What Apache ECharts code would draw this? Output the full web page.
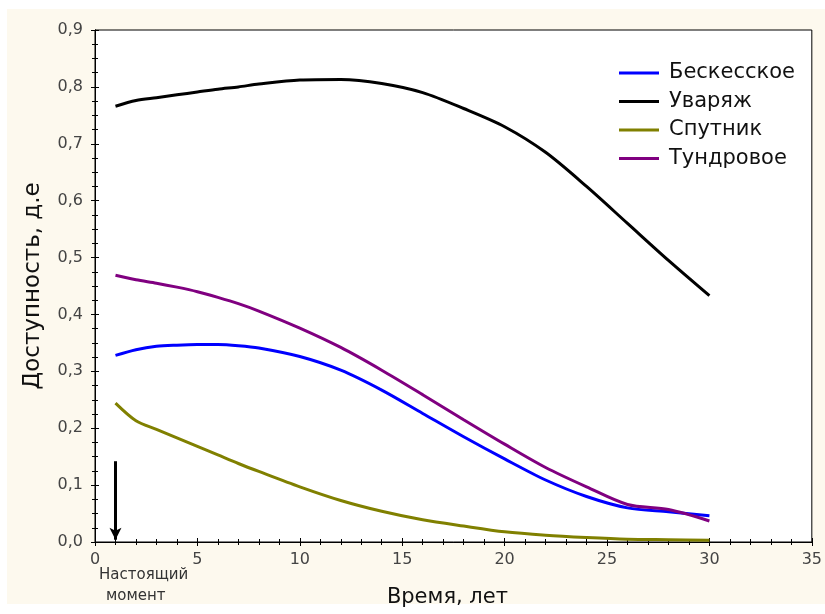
<!DOCTYPE html>
<html>
<head>
<meta charset="utf-8">
<script src="https://cdn.jsdelivr.net/npm/echarts@6/dist/echarts.min.js"></script>
<style>
  html, body { margin: 0; padding: 0; background: #fff; }
  #chart { width: 825px; height: 614px; }
</style>
</head>
<body>
<div id="chart"></div>
<script>
// годы
const years = [1, 2, 3, 4, 5, 6, 7, 8, 10, 12, 14, 16, 18, 20, 22, 24, 26, 28, 30];

// доступность по месторождениям
const beskesskoe = [0.328, 0.338, 0.344, 0.346, 0.347, 0.347, 0.345, 0.341, 0.326, 0.302, 0.267, 0.226, 0.185, 0.146, 0.109, 0.080, 0.060, 0.053, 0.046];
const uvaryazh   = [0.766, 0.776, 0.781, 0.786, 0.791, 0.796, 0.800, 0.805, 0.812, 0.813, 0.806, 0.790, 0.762, 0.730, 0.685, 0.625, 0.560, 0.495, 0.433];
const sputnik    = [0.244, 0.213, 0.198, 0.183, 0.168, 0.153, 0.138, 0.124, 0.097, 0.073, 0.054, 0.039, 0.028, 0.018, 0.012, 0.008, 0.005, 0.004, 0.003];
const tundrovoe  = [0.469, 0.461, 0.455, 0.448, 0.440, 0.430, 0.419, 0.406, 0.376, 0.342, 0.302, 0.259, 0.215, 0.172, 0.131, 0.097, 0.066, 0.057, 0.037];

const seriesNames = ['Бескесское', 'Уваряж', 'Спутник', 'Тундровое'];
const seriesColors = ['#0000ff', '#000000', '#808000', '#800080'];
const seriesValues = [beskesskoe, uvaryazh, sputnik, tundrovoe];

// стрелка "настоящий момент"
const arrowX = 1;
const arrowTop = 0.142;

const xTicks = { min: 0, max: 35, interval: 5 };
const yTicks = { min: 0, max: 0.9, interval: 0.1 };

const FONT = '"DejaVu Sans", "Liberation Sans", sans-serif';

const myChart = echarts.init(document.getElementById('chart'));

const tickCommon = {
  axisLine: { show: true, lineStyle: { color: '#000', width: 1 } },
  axisTick: { show: true, inside: true, length: 4, lineStyle: { color: '#000' } },
  minorTick: { show: true, length: 3, lineStyle: { color: '#000' } },
  splitLine: { show: false }
};

const series = seriesNames.map((name, i) => ({
  name: name,
  type: 'line',
  smooth: 0.3,
  showSymbol: false,
  symbol: 'none',
  data: years.map((y, j) => [y, seriesValues[i][j]]),
  lineStyle: { color: seriesColors[i], width: 3 },
  itemStyle: { color: seriesColors[i] }
}));

series.push({
  name: 'arrow',
  type: 'line',
  data: [],
  markLine: {
    silent: true,
    symbol: ['none', 'arrow'],
    symbolSize: [9, 12],
    label: { show: false },
    lineStyle: { color: '#000', width: 3, type: 'solid' },
    data: [[{ coord: [arrowX, arrowTop] }, { coord: [arrowX, 0.004] }]]
  }
});

const option = {
  backgroundColor: '#fdf9ee',
  animation: false,
  graphic: [
    { type: 'rect', shape: { x: 0, y: 0, width: 825, height: 9 }, style: { fill: '#fff' }, silent: true },
    { type: 'rect', shape: { x: 0, y: 0, width: 7, height: 614 }, style: { fill: '#fff' }, silent: true },
    { type: 'rect', shape: { x: 0, y: 604, width: 825, height: 10 }, style: { fill: '#fff' }, silent: true },
    {
      type: 'text', left: 99, top: 568,
      style: { text: 'Настоящий', fill: '#333', font: '15px ' + FONT }
    },
    {
      type: 'text', left: 106, top: 589,
      style: { text: 'момент', fill: '#333', font: '15px ' + FONT }
    }
  ],
  legend: {
    data: seriesNames,
    orient: 'vertical',
    left: 614,
    top: 57,
    itemWidth: 40,
    itemHeight: 3,
    itemGap: 6.5,
    icon: 'rect',
    textStyle: { fontSize: 21, lineHeight: 22, color: '#111', fontFamily: FONT, padding: [0, 0, 0, 5] }
  },
  grid: {
    left: 95, right: 7, top: 30, bottom: 72,
    show: true,
    backgroundColor: '#ffffff',
    borderColor: '#000',
    borderWidth: 1
  },
  xAxis: [{
    type: 'value',
    min: xTicks.min, max: xTicks.max, interval: xTicks.interval,
    minorTick: Object.assign({}, tickCommon.minorTick, { splitNumber: 5 }),
    axisLine: tickCommon.axisLine,
    axisTick: tickCommon.axisTick,
    splitLine: tickCommon.splitLine,
    axisLabel: { fontSize: 16, color: '#444', margin: 10, fontFamily: FONT },
    name: 'Время, лет',
    nameLocation: 'middle',
    nameGap: 45,
    nameTextStyle: { fontSize: 21, color: '#111', fontFamily: FONT, padding: [0, 12, 0, 0] }
  }, {
    type: 'value',
    position: 'top',
    min: xTicks.min, max: xTicks.max, interval: xTicks.interval,
    minorTick: Object.assign({}, tickCommon.minorTick, { splitNumber: 5 }),
    axisLine: tickCommon.axisLine,
    axisTick: tickCommon.axisTick,
    splitLine: tickCommon.splitLine,
    axisLabel: { show: false }
  }],
  yAxis: [{
    type: 'value',
    min: yTicks.min, max: yTicks.max, interval: yTicks.interval,
    minorTick: Object.assign({}, tickCommon.minorTick, { splitNumber: 4 }),
    axisLine: tickCommon.axisLine,
    axisTick: tickCommon.axisTick,
    splitLine: tickCommon.splitLine,
    axisLabel: {
      fontSize: 16, color: '#444', margin: 12,
      fontFamily: FONT,
      formatter: v => v.toFixed(1).replace('.', ',')
    },
    name: 'Доступность, д.е',
    nameLocation: 'middle',
    nameGap: 50,
    nameTextStyle: { fontSize: 23, color: '#111', fontFamily: FONT }
  }, {
    type: 'value',
    position: 'right',
    min: yTicks.min, max: yTicks.max, interval: yTicks.interval,
    minorTick: Object.assign({}, tickCommon.minorTick, { splitNumber: 4 }),
    axisLine: tickCommon.axisLine,
    axisTick: tickCommon.axisTick,
    splitLine: tickCommon.splitLine,
    axisLabel: { show: false }
  }],
  series: series
};

myChart.setOption(option);
</script>
</body>
</html>
